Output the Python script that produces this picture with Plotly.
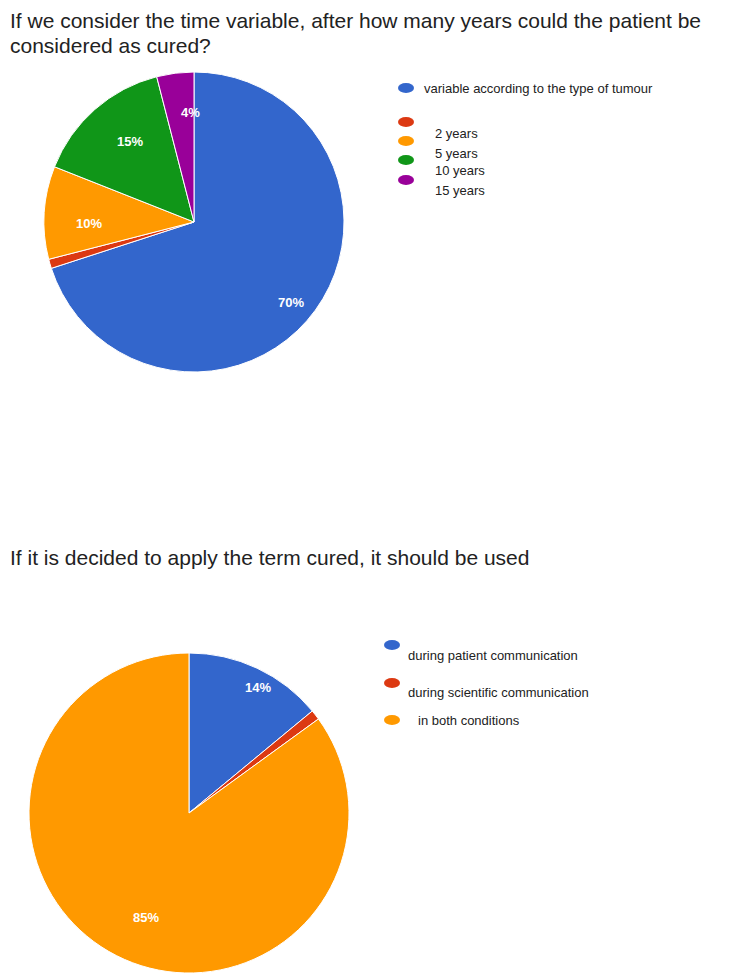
import numpy as np
import plotly.graph_objects as go

W, H = 743, 977
OFF = 8  # the page body has an 8px margin, so the figure starts at (8, 8)
FW, FH = W - OFF, H - OFF

# chart 1 - time variable
cured_labels = ["variable according to the type of tumour", "2 years", "5 years", "10 years", "15 years"]
cured_values = [70, 1, 10, 15, 4]
cured_text = ["70%", "", "10%", "15%", "4%"]

# chart 2 - where the term should be used
use_labels = ["during patient communication", "during scientific communication", "in both conditions"]
use_values = [14, 1, 85]
use_text = ["14%", "", "85%"]

colors = ["#3366cc", "#dc3912", "#ff9900", "#109618", "#990099"]
FONT = "Liberation Sans, Arial, sans-serif"


def px_x(x):
    return (x - OFF) / FW


def px_y(y):
    return 1 - (y - OFF) / FH


def pie_domain(cx, cy, r):
    return dict(x=[px_x(cx - r), px_x(cx + r)], y=[px_y(cy + r), px_y(cy - r)])


def make_pie(labels, values, dom):
    return go.Pie(
        labels=labels,
        values=values,
        textinfo="none",
        marker=dict(colors=colors[:len(values)], line=dict(color="white", width=1)),
        sort=False,
        direction="clockwise",
        rotation=0,
        domain=dom,
        showlegend=False,
        hoverinfo="label+percent",
    )


annots = []
shapes = []


def pct_labels(values, texts, cx, cy, r):
    # put the % labels on the slice bisector, like google charts does
    v = np.array(values, dtype=float)
    mids = (np.cumsum(v) - v / 2) / v.sum() * 2 * np.pi
    for a, t in zip(mids, texts):
        if not t:
            continue
        annots.append(dict(text="<b>" + t + "</b>", x=px_x(cx + 0.8 * r * np.sin(a)),
                           y=px_y(cy - 0.8 * r * np.cos(a)), xref="paper", yref="paper",
                           showarrow=False, font=dict(family=FONT, size=13, color="white")))


def title(txt, y):
    annots.append(dict(text=txt, x=0, y=px_y(y), xref="paper", yref="paper",
                       xanchor="left", yanchor="middle", showarrow=False, align="left",
                       font=dict(family=FONT, size=21, color="#222222")))


def legend_item(mx, my, tx, ty, txt, col):
    shapes.append(dict(type="circle", xref="paper", yref="paper",
                       x0=px_x(mx - 8), x1=px_x(mx + 8), y0=px_y(my + 5), y1=px_y(my - 5),
                       fillcolor=col, line=dict(width=0)))
    annots.append(dict(text=txt, x=px_x(tx), y=px_y(ty), xref="paper", yref="paper",
                       xanchor="left", yanchor="middle", showarrow=False,
                       font=dict(family=FONT, size=13, color="#222222")))


fig = go.Figure()
fig.add_trace(make_pie(cured_labels, cured_values, pie_domain(194, 222, 150)))
fig.add_trace(make_pie(use_labels, use_values, pie_domain(189, 813, 160)))
pct_labels(cured_values, cured_text, 194, 222, 150)
pct_labels(use_values, use_text, 189, 813, 160)

title("If we consider the time variable, after how many years could the patient be", 21)
title("considered as cured?", 46)
title("If it is decided to apply the term cured, it should be used", 557)

# legend 1 (markers and texts are offset like in the original)
leg1 = [(88, 88, 422), (122, 134, 433), (141, 153, 433), (160, 171, 433), (180, 190, 433)]
for (my, ty, tx), lab, col in zip(leg1, cured_labels, colors):
    legend_item(406, my, tx, ty, lab, col)

leg2 = [(645, 655, 406), (683, 692, 406), (720, 720, 416)]
for (my, ty, tx), lab, col in zip(leg2, use_labels, colors):
    legend_item(392, my, tx, ty, lab, col)

fig.update_layout(
    width=FW, height=FH,
    margin=dict(l=0, r=0, t=0, b=0),
    paper_bgcolor="white",
    plot_bgcolor="white",
    annotations=annots,
    shapes=shapes,
)

fig.write_html("out.html")
